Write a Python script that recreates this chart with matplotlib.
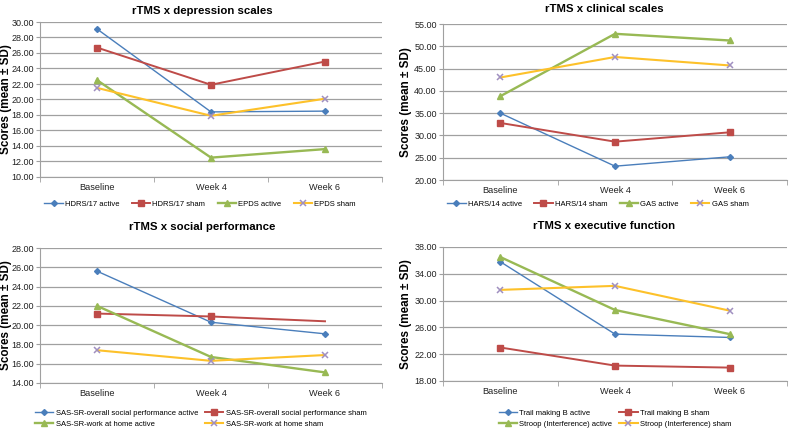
import numpy as np
import matplotlib
matplotlib.use("Agg")
import matplotlib.pyplot as plt
from matplotlib.ticker import FormatStrFormatter, FixedLocator

plt.rcParams['font.family'] = ['Liberation Sans', 'DejaVu Sans']

# data
weeks = ["Baseline", "Week 4", "Week 6"]

hdrs_active = [29.1, 18.4, 18.5]
hdrs_sham = [26.7, 21.9, 24.9]
epds_active = [22.5, 12.5, 13.6]
epds_sham = [21.5, 17.9, 20.1]

hars_active = [35.0, 23.1, 25.2]
hars_sham = [32.8, 28.6, 30.7]
gas_active = [38.8, 52.8, 51.3]
gas_sham = [43.0, 47.6, 45.7]

sas_overall_active = [25.6, 20.3, 19.1]
sas_overall_sham = [21.2, 20.9, 20.4]
sas_home_active = [22.0, 16.7, 15.1]
sas_home_sham = [17.4, 16.3, 16.9]

tmb_active = [35.8, 25.0, 24.5]
tmb_sham = [23.0, 20.3, 20.0]
stroop_active = [36.5, 28.6, 25.0]
stroop_sham = [31.6, 32.2, 28.5]

BLUE = '#4a7ebb'
RED = '#be4b48'
GREEN = '#98b954'
YELLOW = '#fdc12a'
PURPLE = '#a08fc0'
GRID = '#a0a0a0'

W, H = 789, 430
fig = plt.figure(figsize=(W / 100, H / 100), dpi=100)


def px_axes(left, top, right, bottom):
    return fig.add_axes([left / W, 1 - bottom / H, (right - left) / W, (bottom - top) / H])


def style(ax, title, ylo, yhi, step, title_x, title_pad, ylab_px):
    ax.set_xlim(-0.5, 2.5)
    ax.set_ylim(ylo, yhi)
    ax.yaxis.set_major_locator(FixedLocator(np.arange(ylo, yhi + step / 2, step)))
    ax.yaxis.set_major_formatter(FormatStrFormatter('%.2f'))
    ax.set_xticks(range(3))
    ax.set_xticklabels(weeks)
    ax.xaxis.set_minor_locator(FixedLocator([-0.5, 0.5, 1.5, 2.5]))
    ax.tick_params(axis='x', which='major', length=0, pad=4, labelsize=6.6, labelcolor='#222222')
    ax.tick_params(axis='x', which='minor', length=3.5, color=GRID)
    ax.tick_params(axis='y', length=3, color=GRID, labelsize=6.5, pad=1.5, labelcolor='#222222')
    ax.grid(axis='y', color=GRID, lw=0.9)
    ax.set_axisbelow(True)
    for s in ['top', 'right']:
        ax.spines[s].set_visible(False)
    for s in ['left', 'bottom']:
        ax.spines[s].set_color(GRID)
    ax.set_title(title, fontsize=8.2, fontweight='bold', pad=title_pad, x=title_x)
    ax.set_ylabel('Scores (mean \u00b1 SD)', fontsize=8.4, fontweight='bold')
    width_px = ax.get_position().width * W
    ax.yaxis.set_label_coords(ylab_px / width_px, 0.5)


def draw4(ax, series, labels, ncol, anchor, colsp, red_every=None):
    x = range(3)
    a1, s1, a2, s2 = series
    h1, = ax.plot(x, a1, color=BLUE, lw=1.0, marker='D', ms=3, label=labels[0])
    h2, = ax.plot(x, s1, color=RED, lw=1.4, marker='s', ms=4.6,
                  markevery=red_every if red_every else None, label=labels[1])
    h3, = ax.plot(x, a2, color=GREEN, lw=1.7, marker='^', ms=5, label=labels[2])
    h4, = ax.plot(x, s2, color=YELLOW, lw=1.5, marker='x', ms=5, mec=PURPLE, mew=1.1, label=labels[3])
    if ncol == 2:
        handles = [h1, h3, h2, h4]
    else:
        handles = [h1, h2, h3, h4]
    ax.legend(handles=handles, loc='center', bbox_to_anchor=anchor, ncol=ncol, frameon=False,
              fontsize=5.5, handlelength=2.4, columnspacing=colsp, handletextpad=0.3,
              labelspacing=0.5, borderaxespad=0, borderpad=0)


ax1 = px_axes(40, 22, 382, 177)
style(ax1, 'rTMS x depression scales', 10, 30, 2, 0.474, 6, -28)
draw4(ax1, [hdrs_active, hdrs_sham, epds_active, epds_sham],
      ['HDRS/17 active', 'HDRS/17 sham', 'EPDS active', 'EPDS sham'], 4, (0.468, -0.174), 1.6)

ax2 = px_axes(443, 24, 787, 180)
style(ax2, 'rTMS x clinical scales', 20, 55, 5, 0.468, 9, -31)
draw4(ax2, [hars_active, hars_sham, gas_active, gas_sham],
      ['HARS/14 active', 'HARS/14 sham', 'GAS active', 'GAS sham'], 4, (0.45, -0.154), 1.6)

ax3 = px_axes(40, 248, 382, 383)
style(ax3, 'rTMS x social performance', 14, 28, 2, 0.474, 13, -28)
draw4(ax3, [sas_overall_active, sas_overall_sham, sas_home_active, sas_home_sham],
      ['SAS-SR-overall social performance active', 'SAS-SR-overall social performance sham',
       'SAS-SR-work at home active', 'SAS-SR-work at home sham'], 2, (0.47, -0.263), 0.9,
      red_every=[0, 1])

ax4 = px_axes(443, 247, 787, 381)
style(ax4, 'rTMS x executive function', 18, 38, 4, 0.468, 13, -31)
draw4(ax4, [tmb_active, tmb_sham, stroop_active, stroop_sham],
      ['Trail making B active', 'Trail making B sham',
       'Stroop (Interference) active', 'Stroop (Interference) sham'], 2, (0.5, -0.28), 0.9)

fig.savefig('out.png', dpi=100)
